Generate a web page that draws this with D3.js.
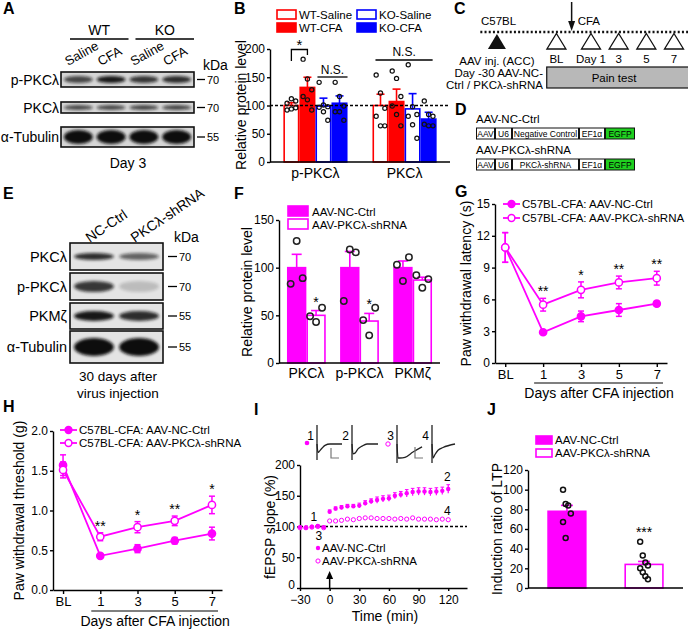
<!DOCTYPE html>
<html><head><meta charset="utf-8">
<script src="https://cdn.jsdelivr.net/npm/d3@7/dist/d3.min.js"></script>
<style>html,body{margin:0;padding:0;background:#fff}svg{display:block}</style>
</head><body>
<svg id="fig" width="688" height="629" xmlns="http://www.w3.org/2000/svg"></svg>
<script>
// ================= DATA =================
// Panel A (western blot, day 3)
const aGroups = ["WT", "KO"];
const aLanes = ["Saline", "CFA", "Saline", "CFA"];
const aRows = ["p-PKCλ", "PKCλ", "α-Tubulin"];
const aKDa = ["70", "70", "55"];
const aBand = [[0.72, 0.95, 0.8, 0.85], [0.7, 0.7, 0.72, 0.72], [1, 1, 1, 1]];
const aCaption = "Day 3";
// Panel B
const bProteins = ["p-PKCλ", "PKCλ"];
const bSeries = ["WT-Saline", "WT-CFA", "KO-Saline", "KO-CFA"];
const bMeans = [[100, 132, 99, 104], [100, 107, 94, 76]];
const bSEM = [[5, 18, 14, 13], [20, 22, 27, 12]];
const bDots = [
  [[92, 94, 96, 104, 112, 108], [182, 147, 128, 116, 110, 92], [141, 101, 98, 97, 89, 74], [141, 116, 99, 89, 89, 74]],
  [[154, 122, 95, 81, 64, 64], [161, 148, 116, 99, 84, 64], [172, 98, 84, 81, 66, 42], [108, 84, 81, 67, 64, 64]]
];
const bTicks = [0, 50, 100, 150, 200];
// Panel C (timeline)
const cTestLabels = ["BL", "Day 1", "3", "5", "7"];
const cTestDays = [-1.5, 1, 3, 5, 7];   // schematic positions
const cInjDay = -5.8, cCfaDay = -0.4;
// Panel D (constructs)
const dNames = ["AAV-NC-Ctrl", "AAV-PKCλ-shRNA"];
const dSegments = [["AAV", "U6", "Negative Control", "EF1α", "EGFP"], ["AAV", "U6", "PKCλ-shRNA", "EF1α", "EGFP"]];
// Panel E (western blot, 30 days)
const eLanes = ["NC-Ctrl", "PKCλ-shRNA"];
const eRows = ["PKCλ", "p-PKCλ", "PKMζ", "α-Tubulin"];
const eKDa = ["70", "70", "55", "55"];
const eBand = [[0.85, 0.6], [0.8, 0.18], [0.95, 0.85], [1, 1]];
const eCaption = ["30 days after", "virus injection"];
// Panel F
const fProteins = ["PKCλ", "p-PKCλ", "PKMζ"];
const fSeries = ["AAV-NC-Ctrl", "AAV-PKCλ-shRNA"];
const fMeans = [[100, 50], [100, 44], [100, 87]];
const fSEM = [[14, 5], [17, 8], [7, 3]];
const fDots = [[[83, 128, 89], [49, 43, 58]], [[65, 119, 116], [45, 29, 58]], [[103, 86, 111], [92, 79, 88]]];
const fSig = [["", "*"], ["", "*"], ["", ""]];
// Panel G (thermal)
const gDays = ["BL", "1", "3", "5", "7"];
const gNC = [10.9, 2.9, 4.4, 5.0, 5.6];
const gNCerr = [1.4, 0.2, 0.5, 0.6, 0.2];
const gSh = [10.9, 5.5, 6.9, 7.6, 8.0];
const gShErr = [1.4, 0.6, 0.75, 0.6, 0.65];
const gSig = ["", "**", "*", "**", "**"];
const gTicks = [0, 3, 6, 9, 12, 15];
// Panel H (mechanical)
const hDays = ["BL", "1", "3", "5", "7"];
const hNC = [1.57, 0.43, 0.52, 0.62, 0.71];
const hNCerr = [0.13, 0.02, 0.05, 0.04, 0.08];
const hSh = [1.51, 0.67, 0.79, 0.87, 1.07];
const hShErr = [0.1, 0.05, 0.07, 0.06, 0.11];
const hSig = ["", "**", "*", "**", "*"];
const hTicks = [0, 0.5, 1.0, 1.5, 2.0];
// Panel I (LTP)
const iTimes = [-30, -24, -18, -12, -6, 0, 6, 12, 18, 24, 30, 36, 42, 48, 54, 60, 66, 72, 78, 84, 90, 96, 102, 108, 114, 120];
const iNC = [99, 98, 99.5, 101, 99, 124, 129, 131, 133, 133, 134, 138, 141, 143, 145, 146, 150, 152, 154, 156, 157, 157, 156, 157, 158, 161];
const iNCerr = [1, 1, 1, 1, 1, 3, 3, 3, 3, 3, 4, 4, 4, 5, 5, 5, 5, 5, 6, 6, 6, 6, 6, 6, 6, 7];
const iSh = [98, 98, 99, 100, 98, 109, 109, 110, 112, 111, 113, 114, 114, 113, 113, 113, 112, 113, 112, 114, 112, 112, 112, 111, 112, 111];
const iXTicks = [-30, 0, 30, 60, 90, 120];
const iYTicks = [0, 50, 100, 150, 200];
const iTraceLabels = ["1", "2", "3", "4"];
const iTraceT = [[0, 1, 2, 5, 8, 13, 25], [0, 1, 3, 6, 10, 15, 26], [0, 1, 3, 8, 16, 25], [0, 1, 3, 6, 11, 23]];
const iTraceV = [[0, -0.6, -0.55, -0.3, -0.1, 0, 0], [0, -0.7, -0.65, -0.35, -0.15, 0, 0], [0, -1, -1, -0.95, -0.57, -0.2], [0, -1, -0.75, -0.45, -0.25, 0]];
// Panel J
const jSeries = ["AAV-NC-Ctrl", "AAV-PKCλ-shRNA"];
const jMeans = [78, 24];
const jSEM = [6, 3];
const jDots = [[100, 85.5, 84, 75.7, 67, 50.8], [47, 33, 26, 23, 20, 16, 12, 9]];
const jTicks = [0, 20, 40, 60, 80, 100, 120];

// ================= DRAWING =================
const FONT = "'Liberation Sans', Arial, Helvetica, sans-serif";
const MAG = "#ff00ff", RED = "#ff0000", BLUE = "#0000ff";
const svg = d3.select("#fig").attr("font-family", FONT);
const defs = svg.append("defs");
const flt = defs.append("filter").attr("id", "blur").attr("x", "-40%").attr("y", "-150%").attr("width", "180%").attr("height", "400%");
flt.append("feGaussianBlur").attr("stdDeviation", 1.7);

function T(g, x, y, s, size, o = {}) {
  const t = g.append("text").attr("x", x).attr("y", y).attr("font-size", size).attr("fill", o.fill || "#000").text(s);
  if (o.anchor) t.attr("text-anchor", o.anchor);
  if (o.weight) t.attr("font-weight", o.weight);
  if (o.rotate != null) t.attr("transform", `rotate(${o.rotate},${x},${y})`);
  return t;
}
function styleAxis(sel) {
  sel.select(".domain").attr("stroke", "#000").attr("stroke-width", 1.4);
  sel.selectAll(".tick line").attr("stroke", "#000").attr("stroke-width", 1.4);
  sel.selectAll(".tick text").attr("font-size", 12).attr("font-family", FONT).attr("fill", "#000");
}
function yAxis(scale, ticks, fmt) {
  const a = d3.axisLeft(scale).tickValues(ticks).tickSize(3).tickPadding(2).tickSizeOuter(0);
  return fmt ? a.tickFormat(fmt) : a;
}
function L(g, x1, y1, x2, y2, stroke = "#000", w = 1.4) {
  return g.append("line").attr("x1", x1).attr("y1", y1).attr("x2", x2).attr("y2", y2).attr("stroke", stroke).attr("stroke-width", w);
}

// Panel letters
[["A", 3, 14], ["B", 234, 14], ["C", 454, 14], ["D", 455, 115], ["E", 3, 199], ["F", 234, 199],
 ["G", 455, 197], ["H", 3, 412], ["I", 254, 415], ["J", 487, 415]].forEach(([s, x, y]) => T(svg, x, y, s, 16, { weight: "bold" }));

// ---------- blot helper ----------
let clipN = 0;
function drawBlot(g, x0, x1, lanes, rowsY, band, thick, bg) {
  const lane = d3.scaleBand().domain(lanes.map((d, i) => i)).range([x0, x1]).padding(0.06);
  rowsY.forEach(([y0, y1], r) => {
    const id = "clip" + (clipN++);
    defs.append("clipPath").attr("id", id).append("rect").attr("x", x0).attr("y", y0).attr("width", x1 - x0).attr("height", y1 - y0);
    g.append("rect").attr("x", x0).attr("y", y0).attr("width", x1 - x0).attr("height", y1 - y0).attr("fill", bg);
    const gc = g.append("g").attr("clip-path", `url(#${id})`);
    band[r].forEach((v, i) => {
      gc.append("ellipse").attr("cx", lane(i) + lane.bandwidth() / 2).attr("cy", (y0 + y1) / 2)
        .attr("rx", lane.bandwidth() * 0.47).attr("ry", thick[r] / 2).attr("fill", "#111").attr("opacity", v).attr("filter", "url(#blur)");
    });
    g.append("rect").attr("x", x0).attr("y", y0).attr("width", x1 - x0).attr("height", y1 - y0).attr("fill", "none").attr("stroke", "#111").attr("stroke-width", 1.6);
  });
  return lane;
}

// ---------- Panel A ----------
{
  const g = svg.append("g");
  const rowsY = [[72, 87], [102, 113], [127, 147]];
  const lane = drawBlot(g, 61, 194, aLanes, rowsY, aBand, [7, 5, 14], "#d6d6d6");
  aRows.forEach((r, i) => {
    const cy = (rowsY[i][0] + rowsY[i][1]) / 2;
    T(g, 59, cy + 5, r, 14, { anchor: "end" });
    L(g, 197, cy, 205, cy, "#000", 1.3);
    T(g, 207, cy + 4, aKDa[i], 11);
  });
  T(g, 203, 70, "kDa", 14);
  aLanes.forEach((s, i) => T(g, lane(i) + 5, 66, s, 13, { rotate: -29 }));
  aGroups.forEach((s, k) => {
    const xa = lane(2 * k) + 7, xb = lane(2 * k + 1) + lane.bandwidth() + 2;
    L(g, xa, 39, xb, 39, "#000", 1.5);
    T(g, (xa + xb) / 2, 35, s, 14, { anchor: "middle" });
  });
  T(g, 128, 168, aCaption, 14, { anchor: "middle" });
}

// ---------- Panel B ----------
{
  const g = svg.append("g");
  const y = d3.scaleLinear().domain([0, 200]).range([162, 49]);
  const x0 = d3.scaleBand().domain(bProteins).range([270, 450]).paddingInner(0.28).paddingOuter(0.15);
  const x1 = d3.scaleBand().domain(bSeries).range([0, x0.bandwidth()]);
  const fills = ["#fff", RED, "#fff", BLUE], strokes = [RED, RED, BLUE, BLUE];
  const w = x1.bandwidth();
  bProteins.forEach((p, pi) => bSeries.forEach((s, si) => {
    const x = x0(p) + x1(s), m = bMeans[pi][si];
    g.append("rect").attr("x", x + 0.8).attr("y", y(m)).attr("width", w - 1.6).attr("height", y(0) - y(m))
      .attr("fill", fills[si]).attr("stroke", strokes[si]).attr("stroke-width", 1.6);
  }));
  g.append("line").attr("x1", 270).attr("x2", 450).attr("y1", y(100)).attr("y2", y(100)).attr("stroke", "#000").attr("stroke-width", 1.3).attr("stroke-dasharray", "3,2");
  bProteins.forEach((p, pi) => bSeries.forEach((s, si) => {
    const x = x0(p) + x1(s), m = bMeans[pi][si], e = bSEM[pi][si], cx = x + w / 2;
    L(g, cx, y(m), cx, y(m + e), strokes[si], 1.6);
    L(g, cx - 4, y(m + e), cx + 4, y(m + e), strokes[si], 1.6);
    bDots[pi][si].forEach((v, k) => {
      g.append("circle").attr("cx", cx + ((k % 3) - 1) * w * 0.27).attr("cy", y(v)).attr("r", 2.1)
        .attr("fill", "none").attr("stroke", "#111").attr("stroke-width", 1.2);
    });
  }));
  g.append("g").attr("transform", "translate(270,0)").call(yAxis(y, bTicks)).call(styleAxis);
  L(g, 270, y(0), 450, y(0), "#000", 1.4);
  bProteins.forEach(p => T(g, x0(p) + x0.bandwidth() / 2, 178, p, 14, { anchor: "middle" }));
  T(g, 246, 105, "Relative protein level", 14, { anchor: "middle", rotate: -90 });
  const xa = x0(bProteins[0]) + x1(bSeries[0]) + w / 2, xb = x0(bProteins[0]) + x1(bSeries[1]) + w / 2;
  g.append("path").attr("d", `M${xa},61V49.5H${xb}V55`).attr("fill", "none").attr("stroke", "#000").attr("stroke-width", 1.3);
  T(g, (xa + xb) / 2, 50, "*", 15, { anchor: "middle" });
  const xc = x0(bProteins[0]) + x1(bSeries[2]), xd = x0(bProteins[0]) + x1(bSeries[3]) + w;
  L(g, xc + 2, 77, xd, 77, "#000", 1.3);
  T(g, (xc + xd) / 2 + 1, 74, "N.S.", 12, { anchor: "middle" });
  const xe = x0(bProteins[1]) + 3, xf = x0(bProteins[1]) + x0.bandwidth() - 4;
  L(g, xe, 60, xf, 60, "#000", 1.3);
  T(g, (xe + xf) / 2, 56, "N.S.", 12, { anchor: "middle" });
  bSeries.forEach((s, si) => {
    const lx = si < 2 ? 277 : 357, ly = si % 2 === 0 ? 10 : 23;
    g.append("rect").attr("x", lx).attr("y", ly).attr("width", 19).attr("height", 9).attr("fill", fills[si]).attr("stroke", strokes[si]).attr("stroke-width", 1.6);
    T(g, lx + 22, ly + 9, s, 11.5);
  });
}

// ---------- Panel C ----------
{
  const g = svg.append("g");
  const x = d3.scaleLinear().domain([1, 7]).range([591, 674]);
  const ly = 32;
  L(g, x(-7), ly, 690, ly, "#111", 2.4).attr("stroke-dasharray", "2,2.2");
  T(g, 481, 25, "C57BL", 11.5);
  const xi = x(cInjDay);
  g.append("path").attr("d", `M${xi},${ly + 2}L${xi + 9},${ly + 17}L${xi - 9},${ly + 17}Z`).attr("fill", "#111");
  T(g, xi, 65, "AAV inj. (ACC)", 11.5, { anchor: "middle" });
  T(g, 543, 77, "Day -30 AAV-NC-", 11.5, { anchor: "end" });
  T(g, 543, 89, "Ctrl / PKCλ-shRNA", 11.5, { anchor: "end" });
  const xc = x(cCfaDay);
  L(g, xc, 2, xc, 24, "#111", 1.5);
  g.append("path").attr("d", `M${xc - 3.5},${21}L${xc},${31}L${xc + 3.5},${21}Z`).attr("fill", "#111");
  T(g, xc + 6, 25, "CFA", 11.5);
  cTestDays.forEach((d, i) => {
    const xt = x(d);
    g.append("path").attr("d", `M${xt},${ly + 1.5}L${xt + 9.5},${ly + 17}L${xt - 9.5},${ly + 17}Z`).attr("fill", "#fff").attr("stroke", "#111").attr("stroke-width", 1.3);
    T(g, xt, 63, cTestLabels[i], 11.5, { anchor: "middle" });
  });
  g.append("rect").attr("x", x(-2.2)).attr("y", 67).attr("width", 150).attr("height", 21).attr("fill", "#b8b8b8").attr("stroke", "#111").attr("stroke-width", 1.2);
  T(g, 614, 82, "Pain test", 11.5, { anchor: "middle" });
}

// ---------- Panel D ----------
{
  const g = svg.append("g");
  const segW = [19, 17, 67, 26, 30];
  const rowY = [128, 159], nameY = [123, 154];
  dNames.forEach((n, r) => {
    T(g, 476, nameY[r], n, 11.5);
    let xx = 476;
    dSegments[r].forEach((s, k) => {
      const isG = s === "EGFP";
      g.append("rect").attr("x", xx + 0.5).attr("y", rowY[r]).attr("width", segW[k] - 1).attr("height", 11)
        .attr("fill", isG ? "#1fcf1f" : "#fff").attr("stroke", "#111").attr("stroke-width", 1);
      T(g, xx + segW[k] / 2, rowY[r] + 8.5, s, 8.5, { anchor: "middle" });
      xx += segW[k];
    });
  });
}

// ---------- Panel E ----------
{
  const g = svg.append("g");
  const rowsY = [[243, 270], [273, 300], [303, 329], [331, 363]];
  const lane = drawBlot(g, 70, 163, eLanes, rowsY, eBand, [7, 11, 10, 18], "#e4e4e4");
  eRows.forEach((r, i) => {
    const cy = (rowsY[i][0] + rowsY[i][1]) / 2;
    T(g, 67, cy + 5, r, 14.5, { anchor: "end" });
    L(g, 168, cy, 177, cy, "#000", 1.3);
    T(g, 179, cy + 4, eKDa[i], 11);
  });
  T(g, 174, 242, "kDa", 14);
  eLanes.forEach((s, i) => T(g, lane(i) + 17, 243, s, 14, { rotate: -34 }));
  T(g, 118, 381, eCaption[0], 13.5, { anchor: "middle" });
  T(g, 118, 398, eCaption[1], 13.5, { anchor: "middle" });
}

// ---------- Panel F ----------
{
  const g = svg.append("g");
  const y = d3.scaleLinear().domain([0, 150]).range([363, 220]);
  const x0 = d3.scaleBand().domain(fProteins).range([279, 440]).paddingInner(0.27).paddingOuter(0.15);
  const x1 = d3.scaleBand().domain(fSeries).range([0, x0.bandwidth()]);
  const w = x1.bandwidth();
  const fills = [MAG, "#fff"];
  fProteins.forEach((p, pi) => fSeries.forEach((s, si) => {
    const x = x0(p) + x1(s), m = fMeans[pi][si], e = fSEM[pi][si], cx = x + w / 2;
    L(g, cx, y(m), cx, y(m + e), MAG, 1.6);
    L(g, cx - 5, y(m + e), cx + 5, y(m + e), MAG, 1.6);
    g.append("rect").attr("x", x + 0.8).attr("y", y(m)).attr("width", w - 1.6).attr("height", y(0) - y(m))
      .attr("fill", fills[si]).attr("stroke", MAG).attr("stroke-width", 1.6);
    fDots[pi][si].forEach((v, k) => {
      g.append("circle").attr("cx", cx + (k - 1) * 6).attr("cy", y(v)).attr("r", 3.2)
        .attr("fill", "none").attr("stroke", "#222").attr("stroke-width", 1.5);
    });
    if (fSig[pi][si]) T(g, cx, y(m + e) - 4, fSig[pi][si], 14, { anchor: "middle" });
  }));
  g.append("g").attr("transform", "translate(279,0)").call(yAxis(y, [0, 50, 100, 150])).call(styleAxis);
  L(g, 279, y(0), 440, y(0), "#000", 1.4);
  fProteins.forEach(p => T(g, x0(p) + x0.bandwidth() / 2, 378, p, 14, { anchor: "middle" }));
  T(g, 252, 292, "Relative protein level", 14, { anchor: "middle", rotate: -90 });
  fSeries.forEach((s, si) => {
    const ly = si === 0 ? 206 : 219;
    g.append("rect").attr("x", 288).attr("y", ly).attr("width", 20).attr("height", 10).attr("fill", fills[si]).attr("stroke", MAG).attr("stroke-width", 1.6);
    T(g, 312, ly + 10, s, 11.5);
  });
}

// ---------- line panels G & H ----------
function linePanel(c) {
  const g = svg.append("g");
  const x = d3.scalePoint().domain(c.days).range(c.xr).padding(0.27);
  const y = d3.scaleLinear().domain(c.yd).range(c.yr);
  g.append("g").attr("transform", `translate(0,${c.yr[0]})`).call(d3.axisBottom(x).tickSize(4).tickSizeOuter(0)).call(styleAxis);
  g.selectAll(".tick text").attr("font-size", 13);
  g.append("g").attr("transform", `translate(${c.xr[0]},0)`).call(yAxis(y, c.ticks, c.fmt)).call(styleAxis);
  const line = d3.line().x((d, i) => x(c.days[i])).y(d => y(d));
  const series = [{ v: c.nc, e: c.ncErr, filled: true }, { v: c.sh, e: c.shErr, filled: false }];
  series.forEach(s => {
    g.append("path").attr("d", line(s.v)).attr("fill", "none").attr("stroke", MAG).attr("stroke-width", 1.8);
    s.v.forEach((v, i) => {
      const cx = x(c.days[i]);
      L(g, cx, y(v - s.e[i]), cx, y(v + s.e[i]), MAG, 1.5);
      L(g, cx - 3, y(v - s.e[i]), cx + 3, y(v - s.e[i]), MAG, 1.5);
      L(g, cx - 3, y(v + s.e[i]), cx + 3, y(v + s.e[i]), MAG, 1.5);
    });
  });
  series.forEach(s => s.v.forEach((v, i) => {
    g.append("circle").attr("cx", x(c.days[i])).attr("cy", y(v)).attr("r", 3.6)
      .attr("fill", s.filled ? MAG : "#fff").attr("stroke", MAG).attr("stroke-width", 1.5);
  }));
  c.sig.forEach((s, i) => { if (s) T(g, x(c.days[i]), y(c.sh[i] + c.shErr[i]) - 2, s, 14, { anchor: "middle" }); });
  c.legendNames.forEach((n, k) => {
    const ly = c.legY[k];
    L(g, c.legX, ly, c.legX + 17, ly, MAG, 1.8);
    g.append("circle").attr("cx", c.legX + 8.5).attr("cy", ly).attr("r", 3.4).attr("fill", k === 0 ? MAG : "#fff").attr("stroke", MAG).attr("stroke-width", 1.5);
    T(g, c.legX + 19, ly + 4, n, 11.5);
  });
  L(g, x(c.days[1]) - 9, c.ulY, c.xr[1] - 4, c.ulY, "#000", 1.2);
  T(g, (x(c.days[1]) + c.xr[1]) / 2 - 6, c.ulY + 15, "Days after CFA injection", 14, { anchor: "middle" });
  T(g, c.ytX, (c.yr[0] + c.yr[1]) / 2, c.ytitle, 14, { anchor: "middle", rotate: -90 });
}
const lineLegend = ["C57BL-CFA: AAV-NC-Ctrl", "C57BL-CFA: AAV-PKCλ-shRNA"];
linePanel({ days: gDays, xr: [495, 667], yd: [0, 15], yr: [363, 204], ticks: gTicks, fmt: d3.format("d"),
  nc: gNC, ncErr: gNCerr, sh: gSh, shErr: gShErr, sig: gSig, legendNames: lineLegend, legX: 503, legY: [204, 218],
  ulY: 383, ytX: 471, ytitle: "Paw withdrawal latency (s)" });
linePanel({ days: hDays, xr: [53, 222], yd: [0, 2], yr: [590, 431], ticks: hTicks, fmt: d3.format(".1f"),
  nc: hNC, ncErr: hNCerr, sh: hSh, shErr: hShErr, sig: hSig, legendNames: lineLegend, legX: 60, legY: [430, 443],
  ulY: 611, ytX: 24, ytitle: "Paw withdrawal threshold (g)" });

// ---------- Panel I ----------
{
  const g = svg.append("g");
  const x = d3.scaleLinear().domain([-30, 139]).range([300, 467]);
  const y = d3.scaleLinear().domain([0, 200]).range([588, 465]);
  g.append("g").attr("transform", "translate(0,588)").call(d3.axisBottom(x).tickValues(iXTicks).tickSize(3).tickPadding(4).tickSizeOuter(0)).call(styleAxis);
  const ya = g.append("g").attr("transform", "translate(300,0)").call(yAxis(y, iYTicks)).call(styleAxis);
  ya.selectAll(".tick text").filter(d => d === 0).attr("dy", "0.05em");
  g.append("line").attr("x1", 300).attr("x2", 467).attr("y1", y(100)).attr("y2", y(100)).attr("stroke", "#000").attr("stroke-width", 1.3).attr("stroke-dasharray", "3,2");
  iSh.forEach((v, i) => g.append("circle").attr("cx", x(iTimes[i])).attr("cy", y(v)).attr("r", 2.1).attr("fill", "#fff").attr("stroke", MAG).attr("stroke-width", 1));
  iNC.forEach((v, i) => {
    const cx = x(iTimes[i]);
    L(g, cx, y(v - iNCerr[i]), cx, y(v + iNCerr[i]), MAG, 1.2);
    L(g, cx - 1.8, y(v + iNCerr[i]), cx + 1.8, y(v + iNCerr[i]), MAG, 1);
    g.append("circle").attr("cx", cx).attr("cy", y(v)).attr("r", 2.2).attr("fill", MAG);
  });
  L(g, x(0), 588, x(0), 578, "#000", 1.5);
  g.append("path").attr("d", `M${x(0) - 3.5},579L${x(0)},571L${x(0) + 3.5},579Z`).attr("fill", "#000");
  T(g, x(-16), 521, "1", 12, { anchor: "middle" });
  T(g, x(-11), 540, "3", 12, { anchor: "middle" });
  T(g, x(119), 481, "2", 12, { anchor: "middle" });
  T(g, x(119), 515, "4", 12, { anchor: "middle" });
  g.append("circle").attr("cx", 318).attr("cy", 548).attr("r", 2.2).attr("fill", MAG);
  T(g, 322, 552, "AAV-NC-Ctrl", 11.5);
  g.append("circle").attr("cx", 318).attr("cy", 561).attr("r", 2.1).attr("fill", "#fff").attr("stroke", MAG).attr("stroke-width", 1);
  T(g, 322, 565, "AAV-PKCλ-shRNA", 11.5);
  T(g, 385, 621, "Time (min)", 14, { anchor: "middle" });
  T(g, 275, 527, "fEPSP slope (%)", 14, { anchor: "middle", rotate: -90 });
  const tx0 = [317, 352, 397, 432];
  const ty = d3.scaleLinear().domain([-1, 0]).range([458, 444]);
  iTraceLabels.forEach((lab, k) => {
    const tx = d3.scaleLinear().domain([0, 1]).range([tx0[k], tx0[k] + 1]);
    L(g, tx0[k], 425, tx0[k], k < 2 ? 460 : 463, "#222", 1.3);
    const ln = d3.line().x((d, i) => tx(iTraceT[k][i])).y(d => ty(d)).curve(d3.curveMonotoneX);
    g.append("path").attr("d", ln(iTraceV[k])).attr("fill", "none").attr("stroke", "#222").attr("stroke-width", 1.3);
    T(g, tx0[k] - 3, 440, lab, 12, { anchor: "end" });
  });
  g.append("circle").attr("cx", 307).attr("cy", 443).attr("r", 2.3).attr("fill", MAG);
  g.append("circle").attr("cx", 388).attr("cy", 444).attr("r", 2.2).attr("fill", "#fff").attr("stroke", MAG).attr("stroke-width", 1);
  [[331, 448], [415, 447]].forEach(([sx, sy]) => {
    g.append("path").attr("d", `M${sx},${sy}V458H${sx + 8}`).attr("fill", "none").attr("stroke", "#777").attr("stroke-width", 1.2);
  });
}

// ---------- Panel J ----------
{
  const g = svg.append("g");
  const y = d3.scaleLinear().domain([0, 120]).range([588, 470]);
  const x = d3.scaleBand().domain(jSeries).range([528, 683]).paddingInner(0.49).paddingOuter(0.25);
  const w = x.bandwidth();
  const fills = [MAG, "#fff"];
  jSeries.forEach((s, si) => {
    const xx = x(s), m = jMeans[si], e = jSEM[si], cx = xx + w / 2;
    g.append("rect").attr("x", xx + 0.8).attr("y", y(m)).attr("width", w - 1.6).attr("height", y(0) - y(m))
      .attr("fill", fills[si]).attr("stroke", MAG).attr("stroke-width", 1.6);
    L(g, cx, y(m), cx, y(m + e), MAG, 1.6);
    L(g, cx - 6, y(m + e), cx + 6, y(m + e), MAG, 1.6);
    jDots[si].forEach((v, k) => {
      g.append("circle").attr("cx", cx + ((k % 4) - 1.5) * 2.6).attr("cy", y(v)).attr("r", 2.5)
        .attr("fill", "none").attr("stroke", "#111").attr("stroke-width", 1.5);
    });
  });
  T(g, x(jSeries[1]) + w / 2, 537, "***", 14, { anchor: "middle" });
  g.append("g").attr("transform", "translate(528,0)").call(yAxis(y, jTicks)).call(styleAxis);
  L(g, 528, y(0), 683, y(0), "#000", 1.4);
  T(g, 502, 529, "Induction ratio of LTP", 14, { anchor: "middle", rotate: -90 });
  jSeries.forEach((s, si) => {
    const ly = si === 0 ? 436 : 449;
    g.append("rect").attr("x", 536).attr("y", ly).attr("width", 16).attr("height", 8).attr("fill", fills[si]).attr("stroke", MAG).attr("stroke-width", 1.6);
    T(g, 555, ly + 8, s, 11.5);
  });
}
</script>
</body></html>
